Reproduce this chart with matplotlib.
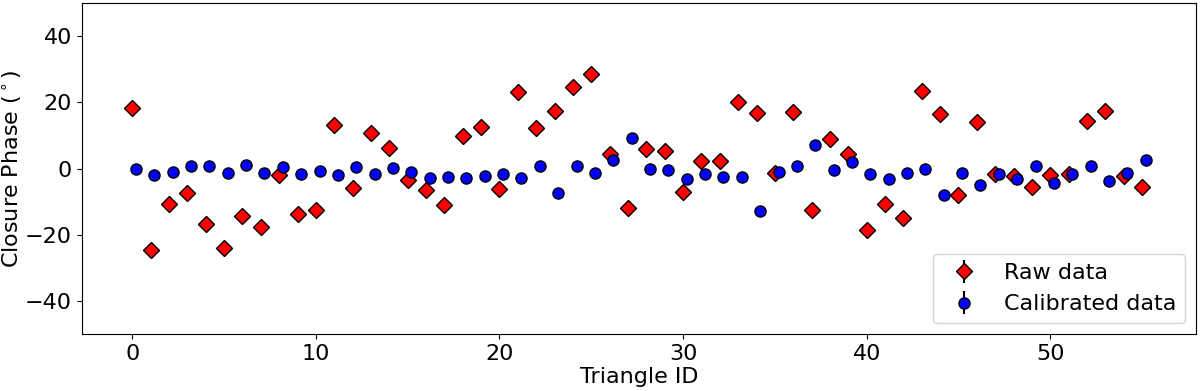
import numpy as np
import matplotlib
matplotlib.use('Agg')
import matplotlib.pyplot as plt

triangle_id = np.arange(56)

raw_phase = [18.3, -24.5, -10.8, -7.3, -16.7, -23.9, -14.2, -17.6, -2.0, -13.6,
             -12.4, 13.2, -5.7, 10.8, 6.4, -3.4, -6.4, -11.0, 9.8, 12.5,
             -6.2, 23.2, 12.3, 17.4, 24.7, 28.7, 4.5, -11.9, 6.0, 5.2,
             -7.1, 2.3, 2.2, 20.2, 16.8, -1.2, 17.0, -12.5, 9.0, 4.4,
             -18.5, -10.7, -14.9, 23.4, 16.5, -7.8, 14.1, -1.5, -2.3, -5.5,
             -2.0, -1.5, 14.5, 17.3, -2.2, -5.5]

cal_phase = [0.0, -1.9, -1.0, 0.9, 0.8, -1.2, 1.1, -1.2, 0.5, -1.7,
             -0.8, -1.9, 0.6, -1.7, 0.1, -0.9, -2.9, -2.5, -2.9, -2.1,
             -1.6, -2.8, 0.9, -7.3, 0.7, -1.3, 2.6, 9.2, 0.0, -0.4,
             -3.1, -1.6, -2.5, -2.6, -12.7, -1.0, 0.7, 7.3, -0.3, 2.1,
             -1.7, -3.2, -1.4, 0.0, -7.8, -1.3, -4.9, -1.5, -3.1, 0.7,
             -4.3, -1.7, 0.8, -3.8, -1.4, 2.5]

raw_err = 0.5
cal_err = 0.5

fig, ax = plt.subplots(figsize=(12, 3.91), dpi=100)
fig.subplots_adjust(left=0.068, right=0.997, top=0.992, bottom=0.145)

ax.errorbar(triangle_id, raw_phase, yerr=raw_err, fmt='D', color='red',
            ecolor='black', markeredgecolor='black', markersize=8,
            label='Raw data')
ax.errorbar(triangle_id + 0.2, cal_phase, yerr=cal_err, fmt='o', color='blue',
            ecolor='black', markeredgecolor='black', markersize=8,
            label='Calibrated data')

ax.set_ylim(-50, 50)
ax.set_xlabel('Triangle ID', fontsize=16, labelpad=2)
ax.set_ylabel(r'Closure Phase ($^\circ$)', fontsize=16)
ax.yaxis.set_label_coords(-0.052, 0.5)
ax.tick_params(labelsize=16)
ax.legend(loc='lower right', fontsize=16)

plt.savefig('out.png', dpi=100)
